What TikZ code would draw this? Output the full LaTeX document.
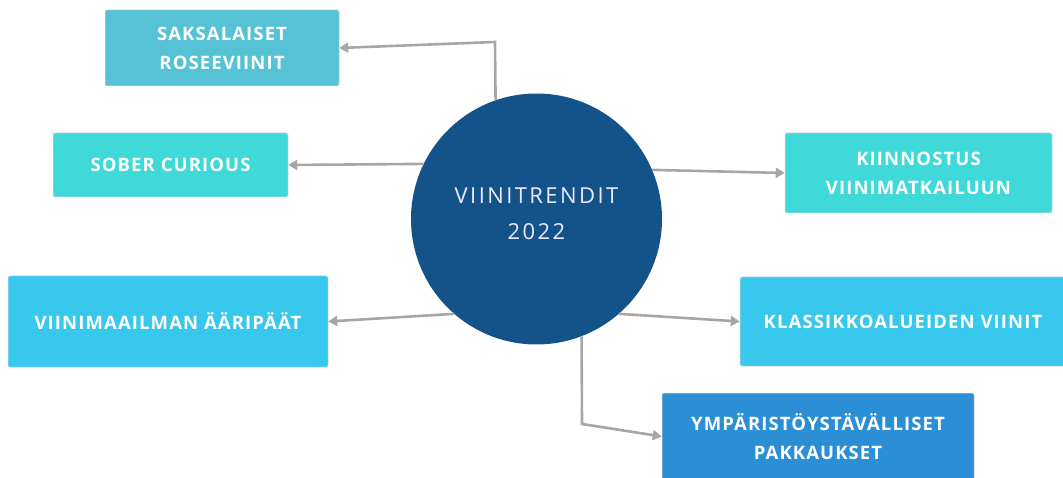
\documentclass[tikz,border=0pt]{standalone}
\usepackage{fontspec}
\setmainfont{Open Sans}
\newfontfamily\boxfont[LetterSpace=6]{Open Sans Bold}
\newfontfamily\hubfont[LetterSpace=11]{Open Sans}
\usetikzlibrary{arrows.meta}
\definecolor{hubblue}{HTML}{13538A}
\definecolor{roseteal}{HTML}{55C3D5}
\definecolor{turq}{HTML}{40D9D9}
\definecolor{skyb}{HTML}{38C8EE}
\definecolor{midb}{HTML}{2B8FD6}
\definecolor{linkgray}{HTML}{A6A6A6}
\tikzset{
  trendbox/.style={draw=white!85!black, line width=0.5pt, rounded corners=2pt,
    text=white, align=center, inner sep=0pt,
    font=\boxfont\fontsize{18.5}{29}\selectfont},
  hub/.style={circle, fill=hubblue, minimum size=251pt, inner sep=0pt},
  hubtext/.style={text=white!92!blue, align=center, inner sep=0pt,
    font=\hubfont\fontsize{22}{36}\selectfont},
  link/.style={draw=linkgray, line width=2.6pt,
    -{Triangle[length=9pt,width=10pt]}}
}
\begin{document}
\begin{tikzpicture}[x=1pt,y=-1pt]
\useasboundingbox (0,0) rectangle (1063,478);
\clip (0,0) rectangle (1063,478);

% topic boxes
\node[trendbox, fill=roseteal, minimum width=234pt, minimum height=76pt] (sak) at (222,48) {SAKSALAISET\\ROSEEVIINIT};
\node[trendbox, fill=turq, minimum width=235pt, minimum height=64pt] (sob) at (170.5,165) {SOBER CURIOUS};
\node[trendbox, fill=skyb, minimum width=320pt, minimum height=91pt] (aar) at (168,321.5) {VIINIMAAILMAN ÄÄRIPÄÄT};
\node[trendbox, fill=turq, minimum width=267pt, minimum height=80pt] (kii) at (918.5,173) {KIINNOSTUS\\VIINIMATKAILUUN};
\node[trendbox, fill=skyb, minimum width=326pt, minimum height=89pt] (kla) at (903,321.5) {KLASSIKKOALUEIDEN VIINIT};
\node[trendbox, fill=midb, minimum width=312pt, minimum height=87pt] (ymp) at (818,436.5) {YMPÄRISTÖYSTÄVÄLLISET\\PAKKAUKSET};

% central topic
\node[hub] (c) at (536.5,219) {};
\node[hubtext, yshift=5pt] (ct) at (c) {VIINITRENDIT\\2022};

% elbow points
\coordinate (e1) at (495,42);
\coordinate (e6) at (582,424);

% connectors
\draw[link] (c.109.5) -- (e1) -- (sak.east);
\draw[link] (c.154) -- (sob.east);
\draw[link] (c.229.5) -- (aar.east);
\draw[link] (c.23.6) -- (kii.west);
\draw[link] (c.311.5) -- (kla.west);
\draw[link] (c.291.3) -- (e6) -- (ymp.west);
\end{tikzpicture}
\end{document}
